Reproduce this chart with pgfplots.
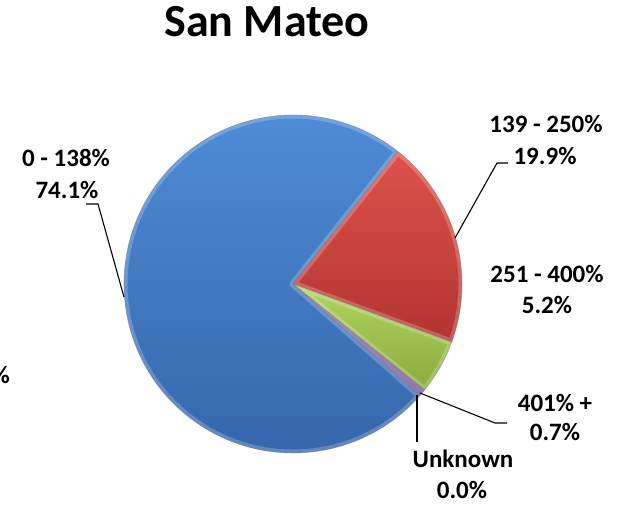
\documentclass[border=0pt]{standalone}
\usepackage{pgfplots}
\pgfplotsset{compat=1.18}
\usepackage{pgfplotstable}
\usepackage{fontspec}
\setmainfont{Carlito}
\definecolor{bluetop}{RGB}{80,142,216}
\definecolor{bluebot}{RGB}{52,100,170}
\definecolor{redtop}{RGB}{222,82,76}
\definecolor{redbot}{RGB}{178,52,48}
\definecolor{greentop}{RGB}{178,212,96}
\definecolor{greenbot}{RGB}{136,172,60}
\definecolor{purptop}{RGB}{140,110,175}
\definecolor{purpbot}{RGB}{110,84,148}
\definecolor{gray0}{RGB}{120,120,120}

% share of each group (percent)
\pgfplotstableread[col sep=comma]{
group,value
0-138,74.1
139-250,19.9
251-400,5.2
401plus,0.7
Unknown,0.0
}\piedata

\pgfplotstablegetelem{0}{value}\of\piedata \let\vA\pgfplotsretval
\pgfplotstablegetelem{1}{value}\of\piedata \let\vB\pgfplotsretval
\pgfplotstablegetelem{2}{value}\of\piedata \let\vC\pgfplotsretval
\pgfplotstablegetelem{3}{value}\of\piedata \let\vD\pgfplotsretval
\pgfplotstablegetelem{4}{value}\of\piedata \let\vE\pgfplotsretval
\pgfmathsetmacro{\tot}{\vA+\vB+\vC+\vD+\vE}
% angles, clockwise from the blue/red boundary
\pgfmathsetmacro{\aR}{51.6}
\pgfmathsetmacro{\aG}{\aR-(\vB/\tot)*360}
\pgfmathsetmacro{\aP}{\aG-(\vC/\tot)*360}
\pgfmathsetmacro{\aU}{\aP-(\vD/\tot)*360}
\pgfmathsetmacro{\aEnd}{\aU-(\vE/\tot)*360}
\pgfmathsetmacro{\aBend}{\aEnd-(\vA/\tot)*360}

\newcommand{\slice}[4]{%
  \shade[top color=#3,bottom color=#4] (axis cs:293,221) -- ++(#1:169pt) arc[start angle=#1,end angle=#2,radius=169pt] -- cycle;
  \begin{scope}
    \clip (axis cs:293,221) -- ++(#1:169pt) arc[start angle=#1,end angle=#2,radius=169pt] -- cycle;
    \draw[white,opacity=0.22,line width=7pt,line join=round] (axis cs:293,221) -- ++(#1:169pt) arc[start angle=#1,end angle=#2,radius=169pt] -- cycle;
  \end{scope}
  \draw[gray0,opacity=0.5,line width=0.6pt,line join=round] (axis cs:293,221) -- ++(#1:169pt) arc[start angle=#1,end angle=#2,radius=169pt] -- cycle;
}

\begin{document}
\begin{tikzpicture}
\begin{axis}[
  width=623pt,height=505pt,scale only axis,
  xmin=0,xmax=623,ymin=0,ymax=505,
  hide axis,clip=false,
]
\slice{\aU}{\aBend}{bluetop}{bluebot}
\slice{\aR}{\aG}{redtop}{redbot}
\slice{\aG}{\aP}{greentop}{greenbot}
\slice{\aP}{\aU}{purptop}{purpbot}

% leader lines
\draw[black,line width=1.1pt] (axis cs:86,301) -- (axis cs:98,301) -- (axis cs:124,208);
\draw[black,line width=1.1pt] (axis cs:508,342) -- (axis cs:497,342) -- (axis cs:455,267);
\draw[black,line width=1.1pt] (axis cs:420,112) -- (axis cs:495,82) -- (axis cs:507,82);
\draw[black,line width=1.1pt] (axis cs:417,110) -- (axis cs:417,63);

% labels
\begin{scope}[every node/.style={inner sep=0pt,anchor=base,font=\fontsize{25}{30}\selectfont\bfseries}]
\node at (axis cs:66,338) {0 - 138\%};
\node at (axis cs:67,306) {74.1\%};
\node at (axis cs:546,372) {139 - 250\%};
\node at (axis cs:545,340) {19.9\%};
\node at (axis cs:547,222) {251 - 400\%};
\node at (axis cs:547,191) {5.2\%};
\node at (axis cs:555,93) {401\% +};
\node at (axis cs:555,64) {0.7\%};
\node at (axis cs:463,37) {Unknown};
\node at (axis cs:462,6) {0.0\%};
\node[anchor=base east] at (axis cs:10,121) {\%};
\end{scope}
\node[inner sep=0pt,anchor=base,font=\fontsize{46}{50}\selectfont\bfseries] at (axis cs:267,468) {San Mateo};
\end{axis}
\pgfresetboundingbox
\useasboundingbox (0,0) rectangle (623pt,505pt);
\end{tikzpicture}
\end{document}
